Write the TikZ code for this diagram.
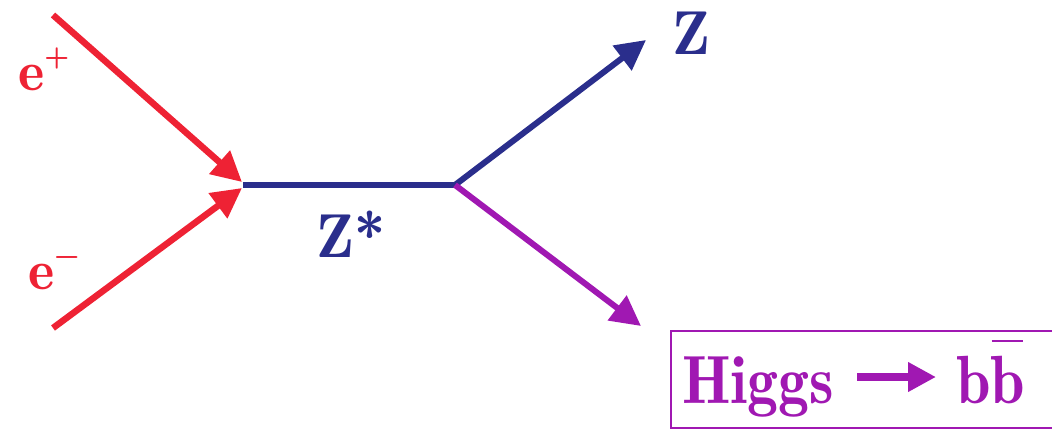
\documentclass[tikz,border=0pt]{standalone}
\usepackage{fontspec}
\newfontfamily\demi{Latin Modern Roman Demi}
\usetikzlibrary{arrows.meta}
\definecolor{ered}{RGB}{238,34,52}
\definecolor{zblue}{RGB}{42,46,140}
\definecolor{hpurp}{RGB}{160,24,178}
\begin{document}
\begin{tikzpicture}[x=1pt,y=-1pt,
  fline/.style={line width=6.5pt},
  tip/.style={-{Triangle[length=30pt,width=30pt]}},
  lab/.style={font=\demi\fontsize{62}{62}\selectfont, inner sep=0pt},
  elab/.style={font=\demi\fontsize{56}{56}\selectfont, inner sep=0pt},
  hlab/.style={hpurp, anchor=base west, inner sep=0pt, font=\demi\fontsize{62}{62}\selectfont}]
\useasboundingbox (0,0) rectangle (1052,429);
\coordinate (ep) at (53,15);
\coordinate (em) at (53,328);
\coordinate (v1) at (243,185);
\coordinate (v1a) at (242,182);
\coordinate (v1b) at (242,188);
\coordinate (v2) at (455,185);
\coordinate (zend) at (646,40);
\coordinate (hend) at (641,326);
% lines
\draw[fline, ered, tip] (ep) -- (v1a);
\draw[fline, ered, tip] (em) -- (v1b);
\draw[line width=6pt, zblue] (v1) -- (v2);
\draw[line width=6pt, zblue, tip] (v2) -- (zend);
\draw[line width=6pt, hpurp, tip] (v2) -- (hend);
% labels
\node[elab, ered, anchor=base west] (lep) at (18,90) {e\raisebox{0.42em}{\demi\fontsize{32}{32}\selectfont +}};
\node[elab, ered, anchor=base west] (lem) at (28,289) {e\raisebox{0.42em}{\demi\fontsize{32}{32}\selectfont \textminus}};
\node[lab, zblue, anchor=base west] (lz) at (672,54) {Z};
\node[lab, zblue, anchor=base west] (lzs) at (316,257) {Z*};
% box
\node[draw=hpurp, line width=2pt, minimum width=400pt, minimum height=97pt, anchor=north west, inner sep=0pt] (box) at (670,330) {};
\node[hlab] (higgs) at (682,403) {\scalebox{1}[1.1]{Higgs}};
\coordinate (ha) at (857,377);
\coordinate (hb) at (936,377);
\draw[hpurp, line width=8pt, -{Triangle[length=28pt,width=28pt]}] (ha) -- (hb);
\node[hlab] (bb) at (956,403) {\scalebox{1}[1.1]{b\rlap{\hspace{1pt}\rule[0.89em]{0.5em}{2.2pt}}b}};
\end{tikzpicture}
\end{document}
